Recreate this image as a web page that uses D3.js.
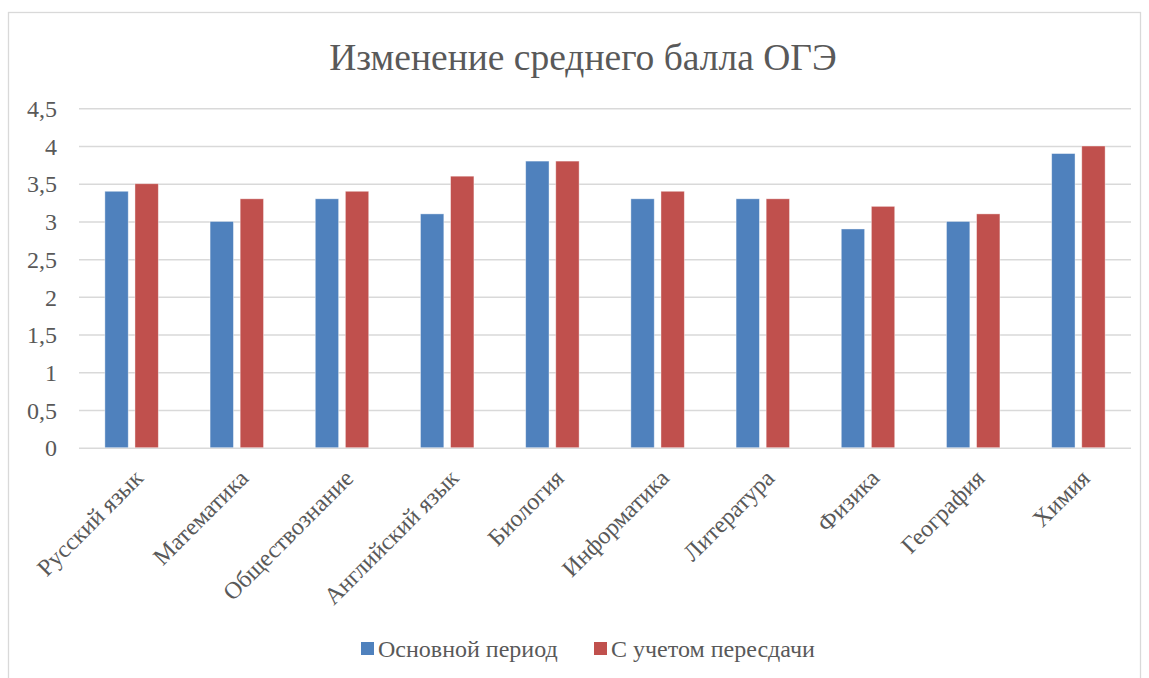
<!DOCTYPE html>
<html><head><meta charset="utf-8">
<script src="https://cdn.jsdelivr.net/npm/d3@7"></script>
<style>body{margin:0;background:#fff}svg{display:block}</style>
</head><body>
<script>
const categories = ["Русский язык","Математика","Обществознание","Английский язык","Биология","Информатика","Литература","Физика","География","Химия"];
const seriesNames = ["Основной период","С учетом пересдачи"];
const mainPeriod = [3.4,3.0,3.3,3.1,3.8,3.3,3.3,2.9,3.0,3.9];
const withRetake = [3.5,3.3,3.4,3.6,3.8,3.4,3.3,3.2,3.1,4.0];
const yTicks = [0,0.5,1,1.5,2,2.5,3,3.5,4,4.5];
const colors = ["#4f81bd","#c0504d"];

const FONT="'Liberation Serif', 'Times New Roman', 'DejaVu Serif', serif";
const W=1149,H=678;
const svg=d3.select("body").append("svg").attr("width",W).attr("height",H);
svg.append("rect").attr("x",8.5).attr("y",12.5).attr("width",1132).attr("height",680).attr("fill","#fff").attr("stroke","#d9d9d9").attr("stroke-width",1.3);

const x0=79,x1=1131,yTop=108.3,yBot=447.7;
const x=d3.scaleBand().domain(categories).range([x0,x1]);
const y=d3.scaleLinear().domain([0,4.5]).range([yBot,yTop]);
const fmt=d=>String(d).replace(".",",");

svg.append("text").attr("x",583).attr("y",70).attr("text-anchor","middle").attr("fill","#595959").style("font-family",FONT).style("font-size","37.5px").text("Изменение среднего балла ОГЭ");

// grid
const yAxis=d3.axisLeft(y).tickValues(yTicks).tickSize(-(x1-x0)).tickFormat(fmt);
const ga=svg.append("g").attr("transform",`translate(${x0},0)`).call(yAxis);
ga.attr("font-family",null);
ga.select(".domain").remove();
ga.selectAll(".tick line").attr("stroke","#d9d9d9").attr("stroke-width",1.5);
ga.selectAll(".tick text").attr("x",-22).attr("dy","0.34em").style("font-family",FONT).style("font-size","24px").attr("fill","#595959");

const bw=x.bandwidth()*0.222, gap=x.bandwidth()*0.064;
const series=[mainPeriod,withRetake];
series.forEach((vals,si)=>{
  svg.append("g").selectAll("rect").data(vals).join("rect")
    .attr("x",(d,i)=>x(categories[i])+x.bandwidth()/2-bw-gap/2+si*(bw+gap))
    .attr("y",d=>y(d)).attr("width",bw).attr("height",d=>y(0)-y(d))
    .attr("fill",colors[si]).attr("stroke","#ffffff").attr("stroke-opacity",0.5).attr("stroke-width",0.8);
});

// x labels
const xa=svg.append("g");
categories.forEach(c=>{
  const cx=x(c)+x.bandwidth()/2+1, cy=yBot+20;
  xa.append("text").attr("transform",`translate(${cx},${cy}) rotate(-45)`).attr("text-anchor","end").attr("dy","0.7em").attr("fill","#595959").style("font-family",FONT).style("font-size","24px").text(c);
});

// legend
const leg=[{x:361,tx:378},{x:594,tx:611}];
seriesNames.forEach((n,i)=>{
  svg.append("rect").attr("x",leg[i].x).attr("y",642).attr("width",13).attr("height",13).attr("fill",colors[i]);
  svg.append("text").attr("x",leg[i].tx).attr("y",657).attr("fill","#595959").style("font-family",FONT).style("font-size","24px").text(n);
});
</script>
</body></html>
